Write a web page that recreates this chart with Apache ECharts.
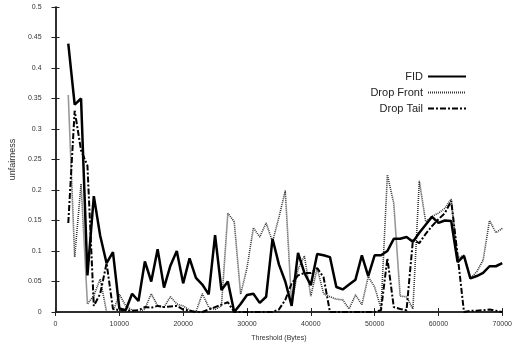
<!DOCTYPE html>
<html lang="en">
<head>
    <meta charset="utf-8">
    <title>unfairness</title>
    <script src="https://cdn.jsdelivr.net/npm/echarts@6/dist/echarts.min.js"></script>
    <style>
        html, body { margin: 0; padding: 0; background: #fff; }
    </style>
</head>
<body>
<div id="chart" style="width:515px; height:349px;"></div>

<script>
    // threshold in bytes
    var thresholds = [
        2000, 3000, 4000, 5000, 6000, 7000, 8000, 9000, 10000, 11000,
        12000, 13000, 14000, 15000, 16000, 17000, 18000, 19000, 20000, 21000,
        22000, 23000, 24000, 25000, 26000, 27000, 28000, 29000, 30000, 31000,
        32000, 33000, 34000, 35000, 36000, 37000, 38000, 39000, 40000, 41000,
        42000, 43000, 44000, 45000, 46000, 47000, 48000, 49000, 50000, 51000,
        52000, 53000, 54000, 55000, 56000, 57000, 58000, 59000, 60000, 61000,
        62000, 63000, 64000, 65000, 66000, 67000, 68000, 69000, 70000
    ];

    var fid = [
        0.44, 0.34, 0.35, 0.06, 0.19, 0.125, 0.08, 0.098, 0.006, 0.003,
        0.03, 0.018, 0.083, 0.05, 0.103, 0.04, 0.076, 0.1, 0.047, 0.088,
        0.056, 0.045, 0.029, 0.126, 0.036, 0.05, 0.0, 0.013, 0.028, 0.03,
        0.015, 0.025, 0.12, 0.078, 0.05, 0.01, 0.097, 0.064, 0.044, 0.095,
        0.093, 0.09, 0.041, 0.037, 0.045, 0.053, 0.093, 0.059, 0.093, 0.093,
        0.1, 0.12, 0.12, 0.123, 0.115, 0.13, 0.143, 0.156, 0.146, 0.15,
        0.149, 0.082, 0.092, 0.055, 0.059, 0.064, 0.075, 0.075, 0.08
    ];

    var dropFront = [
        0.355, 0.09, 0.21, 0.013, 0.027, 0.054, 0.0, 0.0, 0.029, 0.01,
        0.003, 0.0, 0.005, 0.03, 0.01, 0.008, 0.025, 0.013, 0.01, 0.003,
        0.0, 0.03, 0.008, 0.004, 0.01, 0.162, 0.148, 0.029, 0.072, 0.138,
        0.123, 0.146, 0.115, 0.155, 0.199, 0.012, 0.07, 0.092, 0.026, 0.072,
        0.03, 0.025, 0.021, 0.02, 0.005, 0.028, 0.012, 0.058, 0.041, 0.006,
        0.225, 0.178, 0.026, 0.025, 0.005, 0.215, 0.148, 0.157, 0.162, 0.17,
        0.185, 0.088, 0.093, 0.055, 0.066, 0.085, 0.15, 0.13, 0.137
    ];

    var dropTail = [
        0.146, 0.33, 0.265, 0.24, 0.01, 0.03, 0.08, 0.005, 0.003, 0.003,
        0.002, 0.003, 0.008, 0.007, 0.01, 0.008, 0.009, 0.01, 0.004, 0.002,
        0.0, 0.0, 0.004, 0.008, 0.012, 0.016, 0.0, 0.0, 0.0, 0.0,
        0.0, 0.0, 0.0, 0.004, 0.02, 0.047, 0.06, 0.064, 0.064, 0.072,
        0.057, 0.0, 0.0, 0.0, 0.0, 0.0, 0.0, 0.0, 0.0, 0.003,
        0.088, 0.008, 0.005, 0.003, 0.118, 0.113, 0.128, 0.141, 0.152, 0.162,
        0.182, 0.093, 0.0, 0.002, 0.002, 0.003, 0.004, 0.002, 0.0
    ];

    function pairs(values) {
        return thresholds.map(function (t, i) { return [t, values[i]]; });
    }

    var font = 'Liberation Sans, Arial, sans-serif';
    var axisColor = '#222';

    var chart = echarts.init(document.getElementById('chart'));
    chart.setOption({
        animation: false,
        grid: { left: 49, right: 12, top: 7, bottom: 37 },
        legend: {
            orient: 'vertical',
            right: 43,
            top: 66,
            align: 'right',
            itemWidth: 38,
            itemHeight: 10,
            itemGap: 5,
            itemStyle: { opacity: 0 },
            textStyle: { fontFamily: font, fontSize: 11, color: '#222' },
            data: ['FID', 'Drop Front', 'Drop Tail']
        },
        xAxis: [{
            type: 'value',
            min: 0, max: 70000, interval: 10000,
            name: 'Threshold (Bytes)',
            nameLocation: 'middle',
            nameGap: 23,
            nameTextStyle: { fontFamily: font, fontSize: 7, color: '#333' },
            axisLine: { lineStyle: { color: axisColor, width: 1.5 } },
            axisTick: { inside: true, length: 4, lineStyle: { color: axisColor } },
            axisLabel: {
                fontFamily: font, fontSize: 7, color: '#333', margin: 9,
                formatter: function (v) { return String(v); }
            },
            splitLine: { show: false }
        }, {
            type: 'value', position: 'top',
            min: 0, max: 70000, interval: 10000,
            axisLine: { show: true, lineStyle: { color: axisColor, width: 1.5 } },
            axisTick: { inside: true, length: 4, lineStyle: { color: axisColor } },
            axisLabel: { show: false },
            splitLine: { show: false }
        }],
        yAxis: [{
            type: 'value',
            min: 0, max: 0.5, interval: 0.05,
            name: 'unfairness',
            nameLocation: 'middle',
            nameGap: 35,
            nameTextStyle: { fontFamily: font, fontSize: 9, color: '#333' },
            axisLine: { show: true, lineStyle: { color: axisColor, width: 1.5 } },
            axisTick: { show: true, inside: true, length: 4, lineStyle: { color: axisColor } },
            axisLabel: { fontFamily: font, fontSize: 7, color: '#333', margin: 14 },
            splitLine: { show: false }
        }, {
            type: 'value', position: 'right',
            min: 0, max: 0.5, interval: 0.05,
            axisLine: { show: true, lineStyle: { color: axisColor, width: 1.5 } },
            axisTick: { show: true, inside: true, length: 4, lineStyle: { color: axisColor } },
            axisLabel: { show: false },
            splitLine: { show: false }
        }],
        series: [
            {
                name: 'FID',
                type: 'line',
                symbol: 'none',
                data: pairs(fid),
                color: '#000',
                lineStyle: { color: '#000', width: 2.5 },
                z: 3
            },
            {
                name: 'Drop Front',
                type: 'line',
                symbol: 'none',
                data: pairs(dropFront),
                color: '#333',
                lineStyle: { color: '#333', width: 1.6, type: [1, 1] },
                z: 2
            },
            {
                name: 'Drop Tail',
                type: 'line',
                symbol: 'none',
                data: pairs(dropTail),
                color: '#000',
                lineStyle: { color: '#000', width: 2, type: [6, 2, 2, 2] },
                z: 2
            }
        ]
    });
</script>
</body>
</html>
